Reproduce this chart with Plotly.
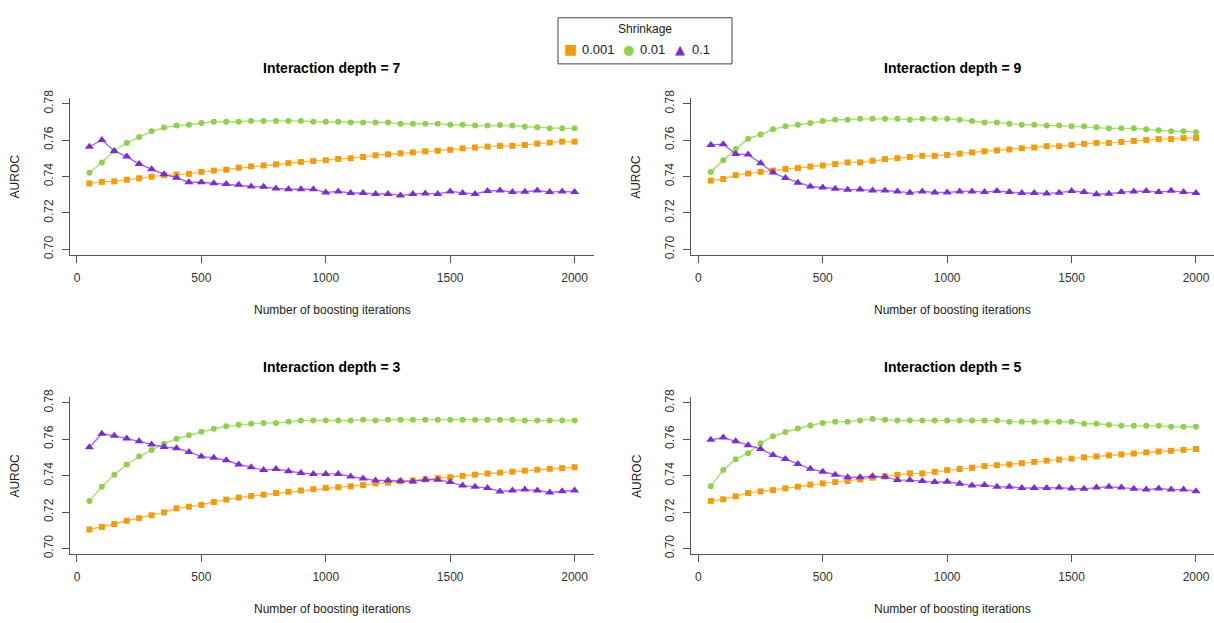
import plotly.graph_objects as go

W, H = 1214, 623

iterations = [50, 100, 150, 200, 250, 300, 350, 400, 450, 500,
              550, 600, 650, 700, 750, 800, 850, 900, 950, 1000,
              1050, 1100, 1150, 1200, 1250, 1300, 1350, 1400, 1450, 1500,
              1550, 1600, 1650, 1700, 1750, 1800, 1850, 1900, 1950, 2000]

shrinkage_labels = ["0.001", "0.01", "0.1"]
y_ticks = [0.70, 0.72, 0.74, 0.76, 0.78]
y_tick_labels = ["0.70", "0.72", "0.74", "0.76", "0.78"]
x_ticks = [0, 500, 1000, 1500, 2000]

# Interaction depth = 7
d7_s0001 = [0.7362, 0.7370, 0.7373, 0.7382, 0.7390, 0.7398, 0.7407, 0.7410, 0.7414, 0.7425,
            0.7432, 0.7437, 0.7448, 0.7455, 0.7460, 0.7466, 0.7473, 0.7479, 0.7484, 0.7489,
            0.7496, 0.7500, 0.7507, 0.7516, 0.7521, 0.7527, 0.7532, 0.7538, 0.7541, 0.7546,
            0.7554, 0.7559, 0.7564, 0.7568, 0.7568, 0.7573, 0.7580, 0.7586, 0.7591, 0.7591]
d7_s001 = [0.7420, 0.7477, 0.7540, 0.7584, 0.7616, 0.7648, 0.7668, 0.7679, 0.7684, 0.7693,
           0.7700, 0.7700, 0.7700, 0.7705, 0.7705, 0.7705, 0.7705, 0.7705, 0.7700, 0.7700,
           0.7700, 0.7696, 0.7696, 0.7696, 0.7696, 0.7689, 0.7689, 0.7689, 0.7689, 0.7684,
           0.7684, 0.7679, 0.7679, 0.7682, 0.7679, 0.7673, 0.7670, 0.7664, 0.7664, 0.7664]
d7_s01 = [0.7563, 0.7600, 0.7540, 0.7509, 0.7468, 0.7439, 0.7412, 0.7393, 0.7368, 0.7368,
          0.7362, 0.7359, 0.7354, 0.7345, 0.7343, 0.7334, 0.7330, 0.7330, 0.7330, 0.7312,
          0.7318, 0.7309, 0.7309, 0.7304, 0.7304, 0.7295, 0.7304, 0.7307, 0.7304, 0.7318,
          0.7309, 0.7304, 0.7320, 0.7323, 0.7314, 0.7316, 0.7323, 0.7314, 0.7318, 0.7314]

# Interaction depth = 9
d9_s0001 = [0.7377, 0.7386, 0.7407, 0.7416, 0.7425, 0.7432, 0.7441, 0.7446, 0.7454, 0.7460,
            0.7468, 0.7477, 0.7477, 0.7486, 0.7495, 0.7500, 0.7507, 0.7513, 0.7513, 0.7518,
            0.7525, 0.7532, 0.7538, 0.7543, 0.7548, 0.7555, 0.7559, 0.7566, 0.7566, 0.7573,
            0.7579, 0.7584, 0.7584, 0.7589, 0.7595, 0.7600, 0.7605, 0.7605, 0.7611, 0.7611]
d9_s001 = [0.7425, 0.7489, 0.7550, 0.7607, 0.7630, 0.7659, 0.7675, 0.7684, 0.7693, 0.7704,
           0.7711, 0.7711, 0.7716, 0.7716, 0.7716, 0.7716, 0.7711, 0.7716, 0.7716, 0.7716,
           0.7711, 0.7705, 0.7696, 0.7696, 0.7689, 0.7684, 0.7684, 0.7679, 0.7679, 0.7675,
           0.7675, 0.7670, 0.7664, 0.7664, 0.7664, 0.7659, 0.7654, 0.7648, 0.7648, 0.7643]
d9_s01 = [0.7573, 0.7577, 0.7523, 0.7520, 0.7473, 0.7421, 0.7391, 0.7366, 0.7345, 0.7339,
          0.7332, 0.7327, 0.7329, 0.7323, 0.7323, 0.7318, 0.7311, 0.7318, 0.7312, 0.7312,
          0.7318, 0.7318, 0.7314, 0.7320, 0.7314, 0.7309, 0.7309, 0.7307, 0.7311, 0.7320,
          0.7314, 0.7302, 0.7305, 0.7314, 0.7318, 0.7320, 0.7314, 0.7321, 0.7314, 0.7309]

# Interaction depth = 3
d3_s0001 = [0.7104, 0.7118, 0.7134, 0.7152, 0.7166, 0.7182, 0.7198, 0.7220, 0.7229, 0.7239,
            0.7255, 0.7268, 0.7279, 0.7288, 0.7295, 0.7304, 0.7311, 0.7318, 0.7325, 0.7332,
            0.7336, 0.7341, 0.7348, 0.7357, 0.7361, 0.7368, 0.7373, 0.7380, 0.7386, 0.7391,
            0.7398, 0.7405, 0.7411, 0.7416, 0.7421, 0.7427, 0.7432, 0.7437, 0.7441, 0.7446]
d3_s001 = [0.7261, 0.7339, 0.7404, 0.7461, 0.7504, 0.7540, 0.7575, 0.7602, 0.7621, 0.7641,
           0.7657, 0.7670, 0.7679, 0.7684, 0.7689, 0.7689, 0.7695, 0.7702, 0.7702, 0.7702,
           0.7702, 0.7702, 0.7707, 0.7702, 0.7707, 0.7707, 0.7707, 0.7707, 0.7707, 0.7707,
           0.7707, 0.7707, 0.7707, 0.7707, 0.7707, 0.7702, 0.7702, 0.7702, 0.7702, 0.7702]
d3_s01 = [0.7555, 0.7629, 0.7618, 0.7604, 0.7588, 0.7571, 0.7557, 0.7550, 0.7530, 0.7504,
          0.7498, 0.7484, 0.7461, 0.7446, 0.7430, 0.7436, 0.7423, 0.7414, 0.7409, 0.7409,
          0.7409, 0.7395, 0.7384, 0.7373, 0.7373, 0.7370, 0.7368, 0.7377, 0.7377, 0.7364,
          0.7345, 0.7338, 0.7332, 0.7313, 0.7318, 0.7323, 0.7318, 0.7307, 0.7314, 0.7318]

# Interaction depth = 5
d5_s0001 = [0.7261, 0.7270, 0.7286, 0.7304, 0.7313, 0.7320, 0.7330, 0.7339, 0.7350, 0.7357,
            0.7364, 0.7370, 0.7379, 0.7388, 0.7395, 0.7404, 0.7412, 0.7412, 0.7420, 0.7430,
            0.7436, 0.7443, 0.7452, 0.7457, 0.7461, 0.7468, 0.7475, 0.7482, 0.7488, 0.7493,
            0.7500, 0.7505, 0.7511, 0.7516, 0.7521, 0.7527, 0.7532, 0.7536, 0.7541, 0.7546]
d5_s001 = [0.7341, 0.7430, 0.7489, 0.7523, 0.7577, 0.7616, 0.7639, 0.7659, 0.7675, 0.7689,
           0.7696, 0.7696, 0.7702, 0.7711, 0.7707, 0.7702, 0.7702, 0.7702, 0.7702, 0.7702,
           0.7702, 0.7702, 0.7702, 0.7702, 0.7696, 0.7696, 0.7696, 0.7696, 0.7696, 0.7695,
           0.7684, 0.7684, 0.7679, 0.7673, 0.7673, 0.7673, 0.7673, 0.7668, 0.7668, 0.7668]
d5_s01 = [0.7596, 0.7609, 0.7588, 0.7566, 0.7546, 0.7513, 0.7491, 0.7464, 0.7437, 0.7421,
          0.7404, 0.7391, 0.7391, 0.7396, 0.7393, 0.7375, 0.7375, 0.7370, 0.7364, 0.7366,
          0.7355, 0.7346, 0.7348, 0.7338, 0.7339, 0.7332, 0.7332, 0.7332, 0.7334, 0.7329,
          0.7327, 0.7334, 0.7339, 0.7334, 0.7327, 0.7323, 0.7329, 0.7323, 0.7323, 0.7314]

panel_titles = ["Interaction depth = 7", "Interaction depth = 9",
                "Interaction depth = 3", "Interaction depth = 5"]
panel_data = [
    [d7_s0001, d7_s001, d7_s01],
    [d9_s0001, d9_s001, d9_s01],
    [d3_s0001, d3_s001, d3_s01],
    [d5_s0001, d5_s001, d5_s01],
]

marker_colors = ["#F39C0B", "#8FD14A", "#7E2BD6"]
line_colors = ["rgba(243,156,11,0.7)", "rgba(143,209,74,0.75)", "rgba(126,43,214,0.7)"]
symbols = ["square", "circle", "triangle-up"]
msizes = [6, 6, 8]
legend_glyphs = ["\u25A0", "\u25CF", "\u25B2"]

FONT = "Liberation Sans, Arial, sans-serif"

# pixel layout of each panel: (left, right, top, bottom)
panels_px = [
    (70, 594, 91.5, 252),
    (691.4, 1214, 91.5, 252),
    (70, 594, 396.5, 557),
    (691.4, 1214, 396.5, 557),
]
XMIN, XMAX = -28, 2078
px_per_unit = (594 - 70) / (XMAX - XMIN)

fig = go.Figure()
layout = dict(
    width=W, height=H, margin=dict(l=0, r=0, t=0, b=0),
    paper_bgcolor="white", plot_bgcolor="white",
    font=dict(family=FONT, size=12, color="#222222"),
    showlegend=False,
)
annotations = []
shapes = []

for i, (l, r, t, b) in enumerate(panels_px):
    n = "" if i == 0 else str(i + 1)
    xa, ya = "x" + n, "y" + n
    for k in range(3):
        fig.add_trace(go.Scatter(
            x=iterations, y=panel_data[i][k], mode="lines+markers",
            xaxis=xa, yaxis=ya, showlegend=False,
            line=dict(color=line_colors[k], width=1.4),
            marker=dict(color=marker_colors[k], symbol=symbols[k], size=msizes[k], line=dict(width=0)),
            name=shrinkage_labels[k], cliponaxis=False,
        ))
    xmax_here = XMIN + (r - l) / px_per_unit
    layout["xaxis" + n] = dict(
        domain=[l / W, r / W], range=[XMIN, xmax_here], anchor=ya,
        tickvals=x_ticks, ticktext=[str(v) for v in x_ticks],
        ticks="outside", ticklen=7, tickcolor="#555555", tickwidth=1,
        showline=True, linecolor="#555555", linewidth=1.3,
        showgrid=False, zeroline=False, ticklabelstandoff=4,
        tickfont=dict(size=12, color="#333333", family=FONT),
    )
    layout["yaxis" + n] = dict(
        domain=[1 - b / H, 1 - t / H], range=[0.6968, 0.7832], anchor=xa,
        tickvals=y_ticks, ticktext=y_tick_labels, tickangle=-90,
        ticks="outside", ticklen=7, tickcolor="#555555", tickwidth=1,
        showline=True, linecolor="#555555", linewidth=1.3,
        showgrid=False, zeroline=False, ticklabelstandoff=4,
        tickfont=dict(size=12, color="#333333", family=FONT),
    )
    cx = (l + min(r, l + (594 - 70))) / 2
    annotations.append(dict(
        text="<b>" + panel_titles[i] + "</b>", xref="paper", yref="paper",
        x=cx / W, y=1 - (t - 30.5) / H, xanchor="center", yanchor="middle",
        showarrow=False, font=dict(size=14, color="#000000", family=FONT)))
    annotations.append(dict(
        text="Number of boosting iterations", xref="paper", yref="paper",
        x=cx / W, y=1 - (b + 56) / H, xanchor="center", yanchor="middle",
        showarrow=False, font=dict(size=12, color="#222222", family=FONT)))
    annotations.append(dict(
        text="AUROC", xref="paper", yref="paper", textangle=-90,
        x=(l - 55) / W, y=1 - ((t + b) / 2) / H, xanchor="center", yanchor="middle",
        showarrow=False, font=dict(size=12, color="#222222", family=FONT)))

# Legend (drawn as a box with text, like the reference's R legend)
LEG_L, LEG_R, LEG_T, LEG_B = 558, 732, 10, 57
shapes.append(dict(type="rect", xref="paper", yref="paper",
                   x0=LEG_L / W, x1=LEG_R / W, y0=1 - LEG_B / H, y1=1 - LEG_T / H,
                   line=dict(color="#444444", width=1), fillcolor="white"))
annotations.append(dict(
    text="Shrinkage", xref="paper", yref="paper",
    x=((LEG_L + LEG_R) / 2) / W, y=1 - 21 / H, xanchor="center", yanchor="middle",
    showarrow=False, font=dict(size=12, color="#222222", family=FONT)))
glyph_x = [570, 628, 680]
label_x = [580, 638, 690]
glyph_sizes = [14, 13, 13]
for k in range(3):
    annotations.append(dict(
        text=legend_glyphs[k], xref="paper", yref="paper",
        x=glyph_x[k] / W, y=1 - 42 / H, xanchor="center", yanchor="middle",
        showarrow=False, font=dict(size=glyph_sizes[k], color=marker_colors[k], family="DejaVu Sans")))
    annotations.append(dict(
        text=shrinkage_labels[k], xref="paper", yref="paper",
        x=label_x[k] / W, y=1 - 42 / H, xanchor="left", yanchor="middle",
        showarrow=False, font=dict(size=13, color="#222222", family=FONT)))

layout["annotations"] = annotations
layout["shapes"] = shapes
fig.update_layout(**layout)

fig.write_html("out.html")
